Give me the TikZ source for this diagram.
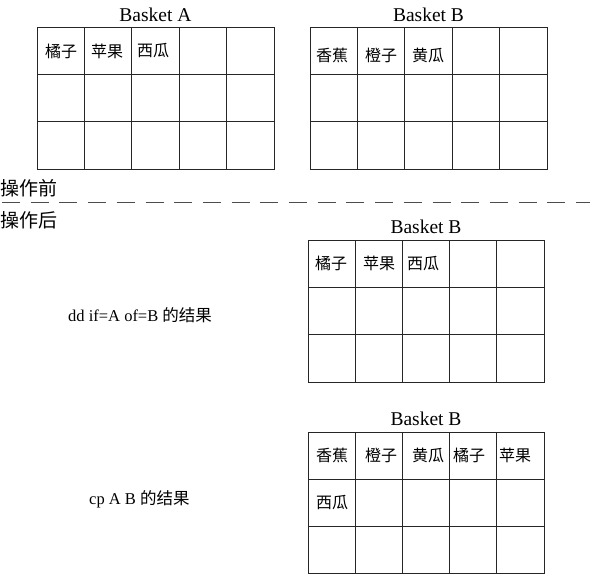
\documentclass[tikz,border=0pt]{standalone}
\usepackage{fontspec}
\setmainfont{Liberation Serif}
\newfontfamily\cjk{Noto Sans CJK SC}
\tikzset{
  gridline/.style={line width=0.8pt, black!85},
  dashline/.style={line width=1.8pt, black!70, dash pattern=on 18pt off 10.7pt},
  title/.style={inner sep=0pt, font=\fontsize{19.5}{21}\selectfont},
  cell/.style={anchor=west, inner sep=0pt, font=\cjk\fontsize{16}{17}\selectfont},
  side/.style={anchor=west, inner sep=0pt, font=\cjk\fontsize{19}{20}\selectfont},
  lbl/.style={anchor=west, inner sep=0pt, font=\fontsize{16.5}{18}\selectfont},
}
\newcommand\basketgrid[4]{%
  \draw[gridline] (#1,#2) rectangle (#3,#4);
  \foreach \i in {1,...,4} \draw[gridline] ({#1+\i*(#3-#1)/5},#2) -- ({#1+\i*(#3-#1)/5},#4);
  \foreach \j in {1,2} \draw[gridline] (#1,{#2+\j*(#4-#2)/3}) -- (#3,{#2+\j*(#4-#2)/3});
}
\begin{document}
\begin{tikzpicture}[x=1pt,y=-1pt]
\useasboundingbox (0,0) rectangle (590,574);
% Basket A (before)
\node[title] (tA) at (155.5,15) {Basket A};
\basketgrid{37}{27}{274}{169}
\node[cell] (a1) at (45,51) {橘子};
\node[cell] (a2) at (91,51) {苹果};
\node[cell] (a3) at (137,51) {西瓜};
% Basket B (before)
\node[title] (tB) at (428.5,15) {Basket B};
\basketgrid{310}{27}{547}{169}
\node[cell] (b1) at (316,55) {香蕉};
\node[cell] (b2) at (365,55) {橙子};
\node[cell] (b3) at (412,55) {黄瓜};
% separator
\node[side] (before) at (0,188.5) {操作前};
\coordinate (dl) at (2,202.5);
\coordinate (dr) at (590,202.5);
\draw[dashline] (dl) -- (dr);
\node[side] (after) at (0,220) {操作后};
% Basket B after dd
\node[title] (tC) at (426,227) {Basket B};
\basketgrid{308}{240}{544}{382}
\node[cell] (c1) at (315,263.5) {橘子};
\node[cell] (c2) at (363,263.5) {苹果};
\node[cell] (c3) at (407,263.5) {西瓜};
\node[lbl] (ddlabel) at (68,315) {dd if=A of=B {\cjk 的结果}};
% Basket B after cp
\node[title] (tD) at (426,419) {Basket B};
\basketgrid{308}{432}{544}{573}
\node[cell] (d1) at (316,455.5) {香蕉};
\node[cell] (d2) at (365,455.5) {橙子};
\node[cell] (d3) at (412,455.5) {黄瓜};
\node[cell] (d4) at (453,455.5) {橘子};
\node[cell] (d5) at (499,455.5) {苹果};
\node[cell] (d6) at (316,503) {西瓜};
\node[lbl] (cplabel) at (89,499) {cp A B {\cjk 的结果}};
\end{tikzpicture}
\end{document}
